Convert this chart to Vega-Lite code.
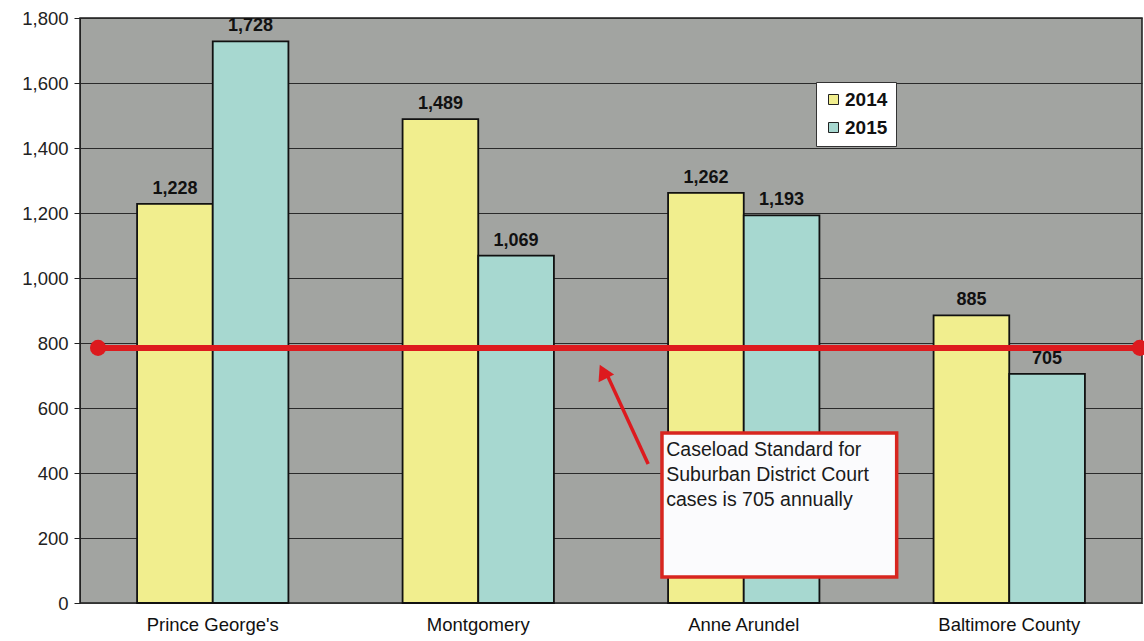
{
  "$schema": "https://vega.github.io/schema/vega-lite/v6.json",
  "width": 1062,
  "height": 585,
  "autosize": "none",
  "padding": {"left": 80, "top": 18, "right": 2, "bottom": 38},
  "background": "#ffffff",
  "config": {
    "font": "Liberation Sans",
    "view": {"fill": "#a2a4a1", "stroke": "#1a1a1a", "strokeWidth": 1.5}
  },
  "datasets": {
    "cases": [
      {"county": "Prince George's", "year": "2014", "cases": 1228},
      {"county": "Prince George's", "year": "2015", "cases": 1728},
      {"county": "Montgomery", "year": "2014", "cases": 1489},
      {"county": "Montgomery", "year": "2015", "cases": 1069},
      {"county": "Anne Arundel", "year": "2014", "cases": 1262},
      {"county": "Anne Arundel", "year": "2015", "cases": 1193},
      {"county": "Baltimore County", "year": "2014", "cases": 885},
      {"county": "Baltimore County", "year": "2015", "cases": 705}
    ],
    "standard": [{"pos": 0.017, "pos2": 0.998, "level": 785}],
    "ends": [{"pos": 0.017, "level": 785}, {"pos": 0.998, "level": 785}],
    "box": [{"x1": 0.548, "x2": 0.769, "y1": 523, "y2": 80}],
    "note": [{"pos": 0.552, "top": 500, "label": "Caseload Standard for\nSuburban District Court\ncases is 705 annually"}],
    "arrow": [{"x1": 0.535, "y1": 428, "x2": 0.4945, "y2": 715}],
    "tip": [{"pos": 0.4925, "level": 712}]
  },
  "layer": [
    {
      "data": {"name": "cases"},
      "encoding": {
        "x": {
          "field": "county", "type": "nominal",
          "sort": ["Prince George's", "Montgomery", "Anne Arundel", "Baltimore County"],
          "scale": {"paddingInner": 0.43, "paddingOuter": 0.215},
          "axis": {"title": null, "labelAngle": 0, "labelFontSize": 18.5, "labelColor": "#111", "labelPadding": 12, "ticks": false, "domainColor": "#333", "domainWidth": 1}
        },
        "xOffset": {"field": "year", "type": "nominal", "scale": {"paddingInner": 0, "paddingOuter": 0}},
        "y": {
          "field": "cases", "type": "quantitative",
          "scale": {"domain": [0, 1800]},
          "axis": {"title": null, "values": [0,200,400,600,800,1000,1200,1400,1600,1800], "labelExpr": "format(datum.value, ',')", "labelFontSize": 18.5, "labelColor": "#222", "gridColor": "#2a2a2a", "gridWidth": 1, "gridOpacity": 1, "domainColor": "#222", "tickColor": "#222", "tickSize": 6, "labelPadding": 6}
        }
      },
      "layer": [
        {
          "mark": {"type": "bar", "stroke": "#111", "strokeWidth": 1.8},
          "encoding": {
            "color": {
              "field": "year", "type": "nominal",
              "scale": {"domain": ["2014", "2015"], "range": ["#f1ee8e", "#a7d8d0"]},
              "legend": {
                "title": null, "orient": "none", "legendX": 736, "legendY": 64,
                "fillColor": "#ffffff", "strokeColor": "#333", "padding": 8,
                "symbolType": "square", "symbolSize": 100, "symbolStrokeColor": "#222", "symbolStrokeWidth": 1,
                "labelFontSize": 19, "labelFontWeight": "bold", "labelColor": "#111", "rowPadding": 8, "labelOffset": 2
              }
            }
          }
        },
        {
          "mark": {"type": "text", "dy": -15, "fontSize": 18, "fontWeight": "bold", "color": "#111"},
          "encoding": {"text": {"field": "cases", "type": "quantitative", "format": ","}}
        }
      ]
    },
    {
      "layer": [
        {
          "data": {"name": "standard"},
          "mark": {"type": "rule", "color": "#dd1a1e", "strokeWidth": 6},
          "encoding": {
            "x": {"field": "pos", "type": "quantitative", "scale": {"domain": [0, 1]}, "axis": null},
            "x2": {"field": "pos2"},
            "y": {"field": "level", "type": "quantitative"}
          }
        },
        {
          "data": {"name": "ends"},
          "mark": {"type": "point", "filled": true, "color": "#dd1a1e", "opacity": 1, "size": 260},
          "encoding": {
            "x": {"field": "pos", "type": "quantitative", "scale": {"domain": [0, 1]}, "axis": null},
            "y": {"field": "level", "type": "quantitative"}
          }
        },
        {
          "data": {"name": "arrow"},
          "mark": {"type": "rule", "color": "#dd1a1e", "strokeWidth": 3.5},
          "encoding": {
            "x": {"field": "x1", "type": "quantitative", "scale": {"domain": [0, 1]}, "axis": null},
            "x2": {"field": "x2"},
            "y": {"field": "y1", "type": "quantitative"},
            "y2": {"field": "y2"}
          }
        },
        {
          "data": {"name": "tip"},
          "mark": {"type": "point", "shape": "triangle-up", "filled": true, "color": "#dd1a1e", "opacity": 1, "size": 300, "angle": -26},
          "encoding": {
            "x": {"field": "pos", "type": "quantitative", "scale": {"domain": [0, 1]}, "axis": null},
            "y": {"field": "level", "type": "quantitative"}
          }
        },
        {
          "data": {"name": "box"},
          "mark": {"type": "rect", "fill": "#fbfbfd", "stroke": "#d8261f", "strokeWidth": 3.5},
          "encoding": {
            "x": {"field": "x1", "type": "quantitative", "scale": {"domain": [0, 1]}, "axis": null},
            "x2": {"field": "x2"},
            "y": {"field": "y1", "type": "quantitative"},
            "y2": {"field": "y2"}
          }
        },
        {
          "data": {"name": "note"},
          "mark": {"type": "text", "align": "left", "baseline": "top", "lineBreak": "\n", "lineHeight": 25, "fontSize": 19.5, "color": "#1a1a1a"},
          "encoding": {
            "x": {"field": "pos", "type": "quantitative", "scale": {"domain": [0, 1]}, "axis": null},
            "y": {"field": "top", "type": "quantitative"},
            "text": {"field": "label"}
          }
        }
      ]
    }
  ],
  "resolve": {"scale": {"x": "independent"}}
}
